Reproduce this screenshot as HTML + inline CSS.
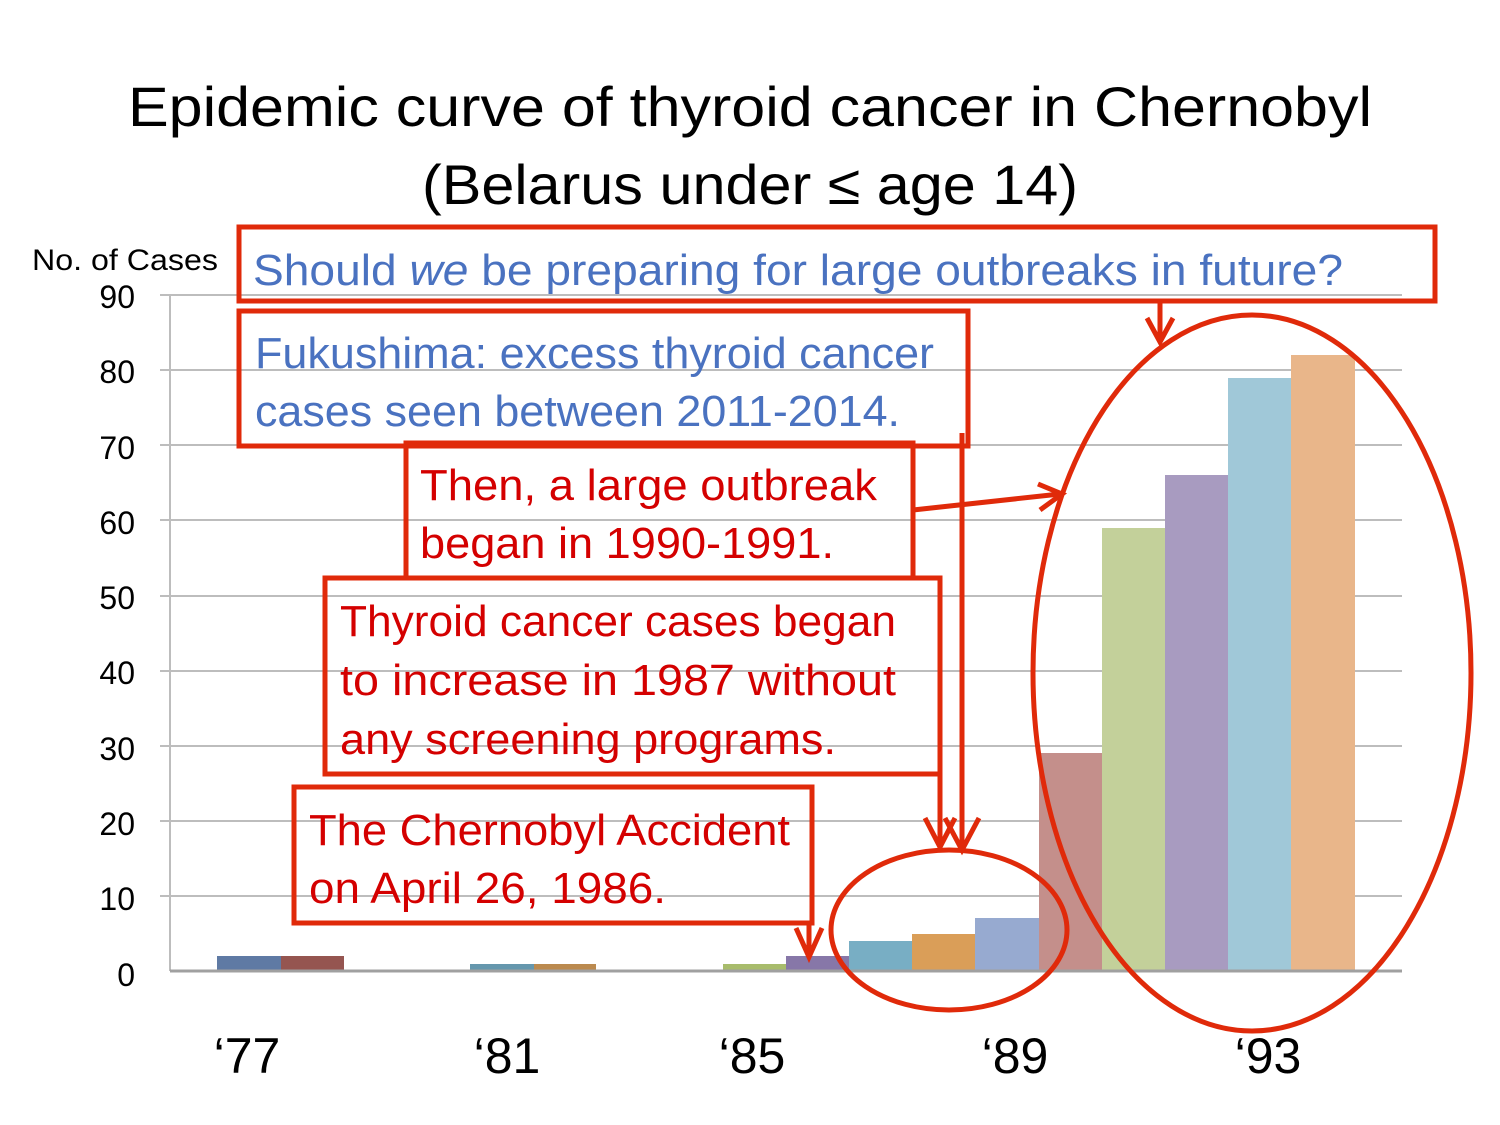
<!DOCTYPE html>
<html><head><meta charset="utf-8"><style>
body{margin:0;background:#fff}
svg{display:block}
text{font-family:"Liberation Sans","DejaVu Sans",sans-serif}
</style></head><body>
<svg width="1500" height="1125" viewBox="0 0 1500 1125" xmlns="http://www.w3.org/2000/svg">
<rect width="1500" height="1125" fill="#fff"/>
<text x="128" y="126" font-size="56" fill="#000" textLength="1244" lengthAdjust="spacingAndGlyphs">Epidemic curve of thyroid cancer in Chernobyl</text>
<text x="422" y="204" font-size="56" fill="#000" textLength="656" lengthAdjust="spacingAndGlyphs">(Belarus under ≤ age 14)</text>
<text x="32" y="270" font-size="30" fill="#000" textLength="186" lengthAdjust="spacingAndGlyphs">No. of Cases</text>
<g stroke="#bdbdbd" stroke-width="2">
<line x1="160" y1="295" x2="1402" y2="295"/><line x1="160" y1="370" x2="1402" y2="370"/><line x1="160" y1="445" x2="1402" y2="445"/><line x1="160" y1="520" x2="1402" y2="520"/><line x1="160" y1="596" x2="1402" y2="596"/><line x1="160" y1="671" x2="1402" y2="671"/><line x1="160" y1="746" x2="1402" y2="746"/><line x1="160" y1="821" x2="1402" y2="821"/><line x1="160" y1="896" x2="1402" y2="896"/>
<line x1="170" y1="295" x2="170" y2="971"/>
</g>
<g font-size="32" fill="#000" text-anchor="end">
<text x="135" y="308">90</text><text x="135" y="383">80</text><text x="135" y="459">70</text><text x="135" y="534">60</text><text x="135" y="609">50</text><text x="135" y="684">40</text><text x="135" y="760">30</text><text x="135" y="835">20</text><text x="135" y="910">10</text><text x="135" y="986">0</text>
</g>
<g>
<rect x="217" y="956" width="64" height="15" fill="#5f7aa4"/>
<rect x="281" y="956" width="63" height="15" fill="#955550"/>
<rect x="470" y="964" width="64" height="7" fill="#6597ad"/>
<rect x="534" y="964" width="62" height="7" fill="#bb8a4f"/>
<rect x="723" y="964" width="63" height="7" fill="#a8bc6c"/>
<rect x="786" y="956" width="63" height="15" fill="#8777a8"/>
<rect x="849" y="941" width="63" height="30" fill="#78aec4"/>
<rect x="912" y="934" width="63" height="37" fill="#da9e58"/>
<rect x="975" y="918" width="64" height="53" fill="#97aad0"/>
<rect x="1039" y="753" width="63" height="218" fill="#c48f8b"/>
<rect x="1102" y="528" width="63" height="443" fill="#c3d09a"/>
<rect x="1165" y="475" width="63" height="496" fill="#a89bc0"/>
<rect x="1228" y="378" width="63" height="593" fill="#a0c8d8"/>
<rect x="1291" y="355" width="64" height="616" fill="#e9b68a"/>
</g>
<line x1="170" y1="971" x2="1402" y2="971" stroke="#a0a0a0" stroke-width="3"/>
<g font-size="50" fill="#000" text-anchor="middle">
<text x="247" y="1073">‘77</text><text x="507" y="1073">‘81</text><text x="752" y="1073">‘85</text><text x="1015" y="1073">‘89</text><text x="1268" y="1073">‘93</text>
</g>
<g fill="none" stroke="#e02a0a" stroke-width="5">
<ellipse cx="1252" cy="673" rx="219" ry="358"/>
<ellipse cx="949" cy="930" rx="118" ry="80"/>
<rect x="239" y="227" width="1196" height="74"/>
<rect x="239" y="311" width="729" height="135"/>
<rect x="406" y="443" width="507" height="135"/>
<rect x="325" y="578" width="615" height="196"/>
<rect x="294" y="787" width="518" height="136"/>
<polyline points="1160,301 1160,340"/><polyline points="1147,318 1160,342 1173,318"/>
<polyline points="913,510 1060,494"/><polyline points="1038,484 1062,494 1040,510"/>
<polyline points="962,433 962,850"/><polyline points="945,818 962,850 979,818"/>
<polyline points="940,774 940,845"/><polyline points="925,818 940,847 955,818"/>
<polyline points="809,923 809,955"/><polyline points="796,928 809,957 822,928"/>
</g>
<g font-size="44" fill="#4a72c0" lengthAdjust="spacingAndGlyphs">
<text x="253" y="285" textLength="1090" lengthAdjust="spacingAndGlyphs">Should <tspan font-style="italic">we</tspan> be preparing for large outbreaks in future?</text>
<text x="255" y="368" textLength="679" lengthAdjust="spacingAndGlyphs">Fukushima: excess thyroid cancer</text>
<text x="255" y="426" textLength="645" lengthAdjust="spacingAndGlyphs">cases seen between 2011-2014.</text>
</g>
<g font-size="44" fill="#d40000">
<text x="420" y="500" textLength="457" lengthAdjust="spacingAndGlyphs">Then, a large outbreak</text>
<text x="420" y="558" textLength="414" lengthAdjust="spacingAndGlyphs">began in 1990-1991.</text>
<text x="340" y="636" textLength="556" lengthAdjust="spacingAndGlyphs">Thyroid cancer cases began</text>
<text x="340" y="695" textLength="556" lengthAdjust="spacingAndGlyphs">to increase in 1987 without</text>
<text x="340" y="754" textLength="496" lengthAdjust="spacingAndGlyphs">any screening programs.</text>
<text x="309" y="845" textLength="481" lengthAdjust="spacingAndGlyphs">The Chernobyl Accident</text>
<text x="309" y="903" textLength="357" lengthAdjust="spacingAndGlyphs">on April 26, 1986.</text>
</g>
</svg>
</body></html>
